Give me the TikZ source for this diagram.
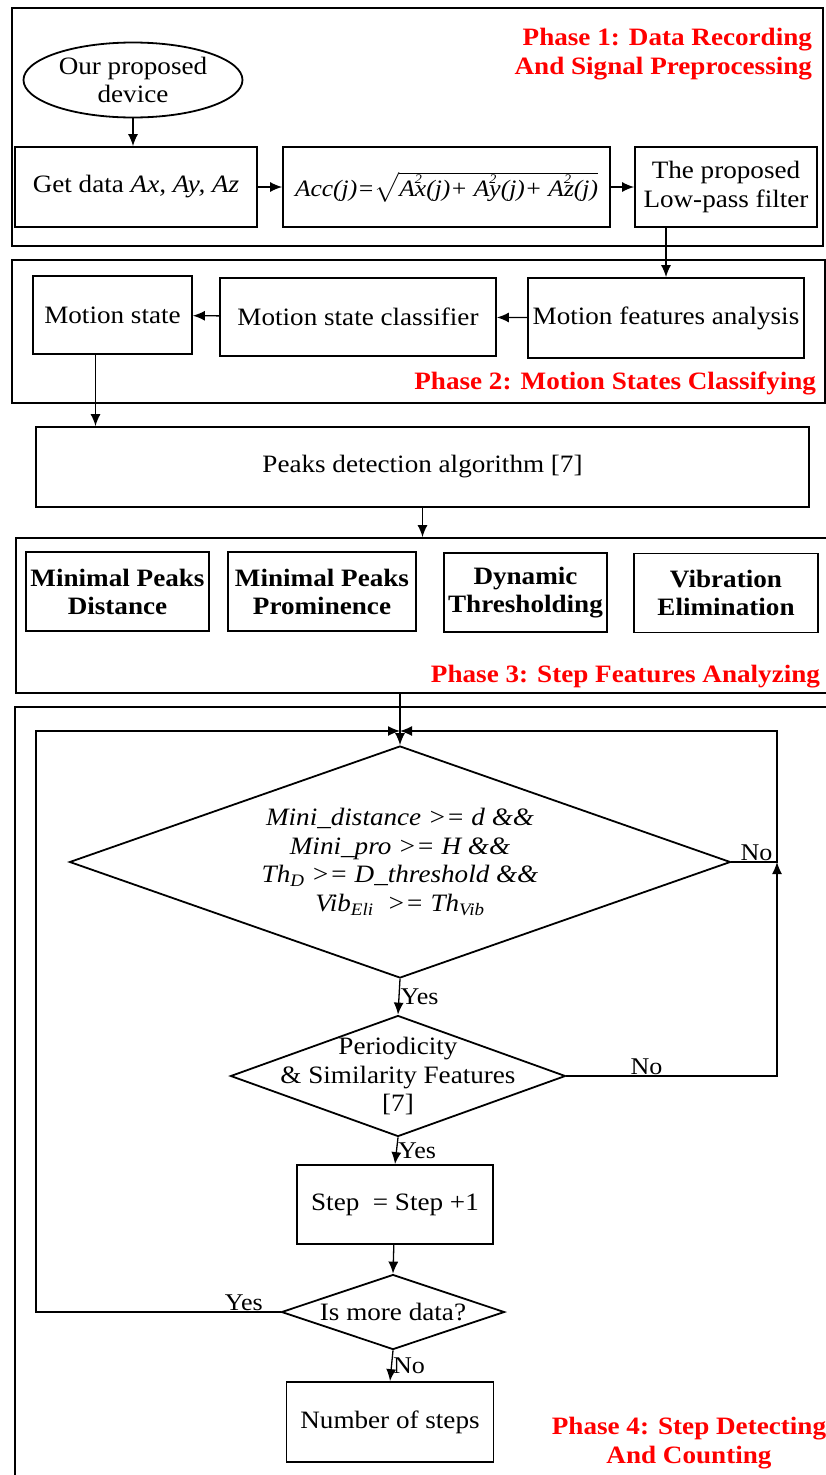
\documentclass[tikz,border=0pt]{standalone}
\usepackage{amsmath}
\usepackage{fontspec}
\setmainfont{Liberation Serif}[FakeStretch=1.085]
\usetikzlibrary{calc,arrows.meta,shapes.geometric}

\begin{document}
\begin{tikzpicture}[x=1pt,y=-1pt,line width=1.3pt,>={Latex[length=12pt,width=10pt]},
    box/.style={draw,line width=1.8pt,align=center,inner sep=2pt,font=\fontsize{25}{28.5}\selectfont},
    bbox/.style={box,font=\bfseries\fontsize{25}{28}\selectfont},
    frame/.style={draw,line width=1.8pt,inner sep=0pt},
    dec/.style={box,diamond,inner xsep=-40pt,inner ysep=-10pt},
    ttl/.style={text=red,align=right,font=\bfseries\fontsize{25}{28.5}\selectfont},
    lbl/.style={font=\fontsize{24}{28}\selectfont,inner sep=1pt}]
              \useasboundingbox (0,0) rectangle (826,1475);
              \clip (0,0) rectangle (826,1475);
              \node[frame,minimum width=811pt,minimum height=238pt](p1)at(417.5,127){};
              \node[frame,minimum width=813pt,minimum height=143pt](p2)at(418.5,331.5){};
              \node[frame,minimum width=816pt,minimum height=155pt](p3)at(424,615.5){};
              \node[frame,minimum width=820pt,minimum height=778pt](p4)at(425,1096){};
              \node[ttl,anchor=east](t1)at(816,54){Phase 1: Data Recording\\And Signal Preprocessing};
              \node[ttl,anchor=east](t2)at(820,383){Phase 2: Motion States Classifying};
              \node[ttl,anchor=east](t3)at(824,677){Phase 3: Step Features Analyzing};
              \node[ttl,align=center](t4)at(689,1443){Phase 4: Step Detecting\\And Counting};
              \node[box,ellipse,minimum width=219pt,minimum height=75pt,inner sep=0pt](a)at(133,80){Our proposed\\device};
              \node[box,minimum width=242pt,minimum height=80pt](b)at(136,187){Get data \textit{Ax, Ay, Az}};
              \node[box,minimum width=327pt,minimum height=80pt,font=\fontsize{23.5}{28}\selectfont](c)at(446.5,187){\textit{Acc(j)=}$\sqrt{\text{\itshape A\rlap{\raisebox{.55em}{\fontsize{13}{13}\selectfont 2}}x(j)+ A\rlap{\raisebox{.55em}{\fontsize{13}{13}\selectfont 2}}y(j)+ A\rlap{\raisebox{.55em}{\fontsize{13}{13}\selectfont 2}}z(j)}}$};
              \node[box,minimum width=182pt,minimum height=80pt](d)at(726,187){The proposed\\Low-pass filter};
              \node[box,minimum width=276pt,minimum height=80pt](e)at(666,318){Motion features analysis};
              \node[box,minimum width=276pt,minimum height=78pt](f)at(358,317){Motion state classifier};
              \node[box,minimum width=159pt,minimum height=78pt](g)at(112.5,315){Motion state};
              \node[box,minimum width=773pt,minimum height=80pt](h)at(422.5,467){Peaks detection algorithm [7]};
              \node[bbox,minimum width=183pt,minimum height=79pt](i1)at(117.5,591.5){Minimal Peaks\\Distance};
              \node[bbox,minimum width=188pt,minimum height=79pt](i2)at(322,591.5){Minimal Peaks\\Prominence};
              \node[bbox,minimum width=163pt,minimum height=79pt](i3)at(525.5,592.5){Dynamic\\Thresholding};
              \node[bbox,minimum width=184pt,minimum height=79pt](i4)at(726,593){Vibration\\Elimination};
              \node[dec,aspect=2.85,minimum width=661pt,minimum height=232pt,font=\itshape\fontsize{25}{28.5}\selectfont](j)at(400,862){Mini\_distance >= d \&\&\\Mini\_pro >= H \&\&\\Th\textsubscript{D} >= D\_threshold \&\&\\Vib\textsubscript{Eli}~ >= Th\textsubscript{Vib}};
              \node[dec,aspect=2.77,minimum width=335pt,minimum height=121pt](k)at(398,1076){Periodicity\\\& Similarity Features\\{[7]}};
              \node[box,minimum width=196pt,minimum height=79pt](m)at(395,1204.5){Step~~= Step +1};
              \node[dec,aspect=3,minimum width=223pt,minimum height=75pt](n)at(393,1312){Is more data?};
              \node[box,minimum width=207pt,minimum height=80pt](o)at(390,1422){Number of steps};
              \coordinate(l)at(36,731);
              \coordinate(q)at(400,731);
              \coordinate(r)at(777,731);
              \draw[->](a)--(a|-b.north);
              \draw[->](b)--(c);
              \draw[->](c)--(d);
              \draw[->](e.north|-d.south)--(e.north);
              \draw[->](e)--(f);
              \draw[->](f)--(g);
              \draw[->]([xshift=-17pt]g.south)--([xshift=-17pt]g.south|-h.north);
              \draw[->](h)--(h|-p3.north);
              \draw[->](p3.south-|q)--(j.north);
              \draw[->](n.west)--(n.west-|l)node[lbl,pos=0.15,above]{Yes}--(l)--(q);
              \draw[->](j.east)--(j.east-|r)node[lbl,pos=0.55,above]{No}--(r)--(q);
              \draw[->](k.east)--(k.east-|r)node[lbl,pos=0.38,above]{No}--(j.east-|r);
              \draw[->](j.south)--(k.north)node[lbl,midway,right]{Yes};
              \draw[->](k.south)--(m.north)node[lbl,midway,right]{Yes};
              \draw[->](m)--(n.north);
              \draw[->](n.south)--(o.north)node[lbl,midway,right]{No};
            \end{tikzpicture}
\end{document}
